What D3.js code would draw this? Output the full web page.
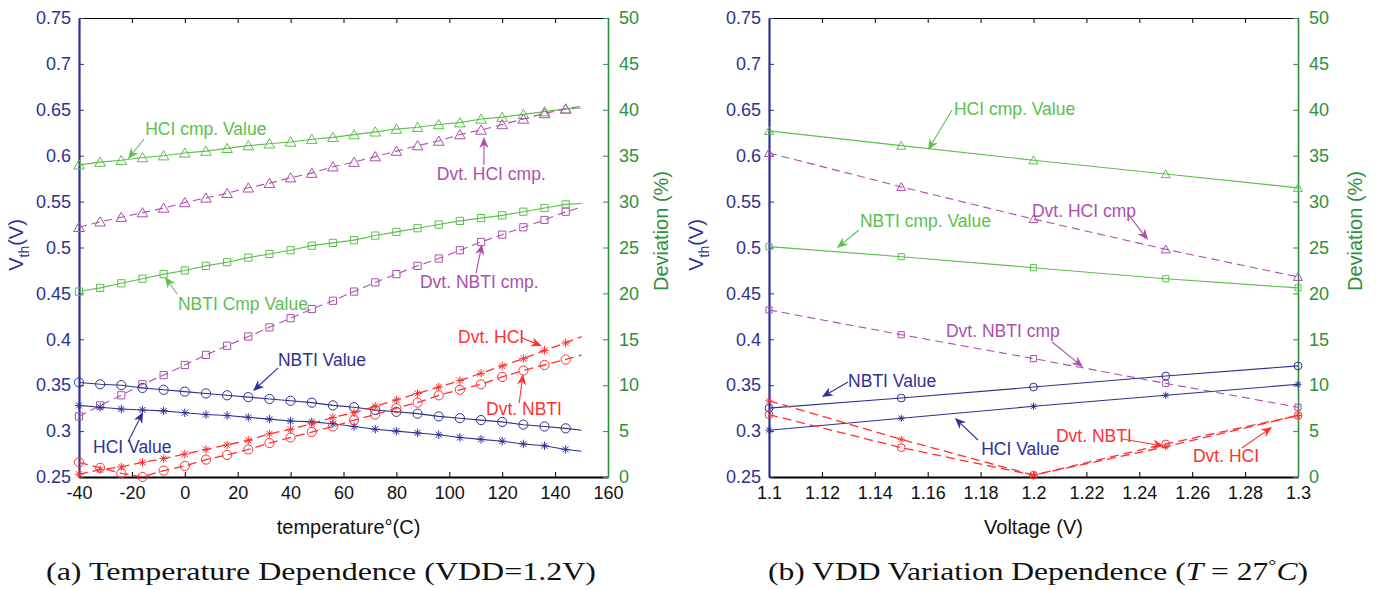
<!DOCTYPE html>
<html>
<head>
<meta charset="utf-8">
<script src="https://cdn.jsdelivr.net/npm/d3@7"></script>
<style>
  body { margin: 0; background: #fff; }
  svg { display: block; font-family: "Liberation Sans", Arial, Helvetica, sans-serif; }
</style>
</head>
<body>
<svg width="1376" height="590"></svg>
<script>
// ---- shared axes ----
var vthTicks = [0.25, 0.3, 0.35, 0.4, 0.45, 0.5, 0.55, 0.6, 0.65, 0.7, 0.75];
var vthTickLabels = ["0.25", "0.3", "0.35", "0.4", "0.45", "0.5", "0.55", "0.6", "0.65", "0.7", "0.75"];
var devTicks = [0, 5, 10, 15, 20, 25, 30, 35, 40, 45, 50];

// ---- panel (a): temperature sweep, VDD = 1.2V ----
var temps = [-40, -32, -24, -16, -8, 0, 8, 16, 24, 32, 40, 48, 56, 64, 72, 80, 88, 96, 104, 112, 120, 128, 136, 144];
var tempTicks = [-40, -20, 0, 20, 40, 60, 80, 100, 120, 140, 160];
var tempTickLabels = ["-40", "-20", "0", "20", "40", "60", "80", "100", "120", "140", "160"];

var hciCmpT = [0.590, 0.593, 0.595, 0.598, 0.600, 0.603, 0.605, 0.608, 0.611, 0.613, 0.615, 0.618, 0.620, 0.623, 0.626, 0.629, 0.631, 0.634, 0.636, 0.640, 0.642, 0.645, 0.648, 0.651];
var dvtHciCmpT = [27.2, 27.8, 28.3, 28.8, 29.3, 29.9, 30.4, 30.9, 31.5, 32.0, 32.6, 33.1, 33.8, 34.3, 34.9, 35.5, 36.1, 36.6, 37.3, 37.8, 38.4, 39.0, 39.6, 40.1];
var nbtiCmpT = [0.452, 0.456, 0.461, 0.466, 0.471, 0.475, 0.480, 0.484, 0.489, 0.493, 0.497, 0.502, 0.505, 0.508, 0.513, 0.517, 0.521, 0.525, 0.529, 0.532, 0.535, 0.539, 0.543, 0.547];
var dvtNbtiCmpT = [6.6, 7.8, 8.9, 10.1, 11.1, 12.2, 13.3, 14.3, 15.3, 16.3, 17.3, 18.3, 19.2, 20.2, 21.2, 22.1, 23.0, 23.8, 24.7, 25.6, 26.4, 27.2, 28.0, 28.9];
var nbtiT = [0.353, 0.351, 0.350, 0.347, 0.345, 0.343, 0.341, 0.339, 0.337, 0.335, 0.333, 0.331, 0.328, 0.326, 0.323, 0.321, 0.319, 0.316, 0.314, 0.312, 0.310, 0.307, 0.305, 0.303];
var hciT = [0.328, 0.326, 0.324, 0.323, 0.322, 0.320, 0.318, 0.317, 0.315, 0.313, 0.311, 0.310, 0.308, 0.305, 0.302, 0.300, 0.298, 0.296, 0.293, 0.291, 0.289, 0.286, 0.284, 0.280];
var dvtHciT = [0.3, 0.8, 1.1, 1.6, 2.0, 2.5, 3.0, 3.5, 4.0, 4.7, 5.2, 5.8, 6.5, 7.0, 7.7, 8.4, 9.1, 9.8, 10.5, 11.3, 12.1, 12.9, 13.8, 14.6];
var dvtNbtiT = [1.6, 1.0, 0.4, 0.0, 0.7, 1.2, 1.9, 2.4, 3.0, 3.7, 4.3, 4.9, 5.5, 6.2, 6.8, 7.5, 8.1, 8.9, 9.5, 10.1, 10.9, 11.6, 12.2, 12.8];
// where each line of panel (a) stops, at 150 C (same series order as above)
var tempLineEnd = 150;
var tempEnds = [0.652, 40.4, 0.548, 29.4, 0.301, 0.278, 15.3, 13.3];

// ---- panel (b): VDD sweep, T = 27C ----
var volts = [1.1, 1.15, 1.2, 1.25, 1.3];
var voltTicks = [1.1, 1.12, 1.14, 1.16, 1.18, 1.2, 1.22, 1.24, 1.26, 1.28, 1.3];
var voltTickLabels = ["1.1", "1.12", "1.14", "1.16", "1.18", "1.2", "1.22", "1.24", "1.26", "1.28", "1.3"];

var hciCmpV = [0.627, 0.611, 0.595, 0.580, 0.565];
var dvtHciCmpV = [35.3, 31.6, 28.1, 24.8, 21.8];
var nbtiCmpV = [0.501, 0.490, 0.478, 0.466, 0.456];
var dvtNbtiCmpV = [18.2, 15.5, 12.9, 10.2, 7.6];
var nbtiV = [0.325, 0.336, 0.348, 0.360, 0.371];
var hciV = [0.301, 0.314, 0.327, 0.339, 0.351];
var dvtHciV = [8.3, 4.1, 0.2, 3.3, 6.7];
var dvtNbtiV = [6.8, 3.2, 0.2, 3.6, 6.7];

var blue = "#2e3192", darkGreen = "#2e8f3d", green = "#5cbf4c", magenta = "#ab4fab", red = "#ff3030";

var svg = d3.select("svg"),
    plotTop = 18, plotBottom = 477;

function seriesList(v) {
    return [
        { values: v[0], axis: "vth", color: green, marker: "tri" },
        { values: v[1], axis: "dev", color: magenta, marker: "tri", dash: "8,5" },
        { values: v[2], axis: "vth", color: green, marker: "sq" },
        { values: v[3], axis: "dev", color: magenta, marker: "sq", dash: "8,5" },
        { values: v[4], axis: "vth", color: blue, marker: "circ" },
        { values: v[5], axis: "vth", color: blue, marker: "star" },
        { values: v[6], axis: "dev", color: red, marker: "star", dash: "9,5", width: 1.3 },
        { values: v[7], axis: "dev", color: red, marker: "circ", dash: "9,5", width: 1.3 }
    ];
}

function markerPath(type, s) {
    if (type === "tri") return "M0," + (-5 * s) + "L" + (5.3 * s) + "," + (4.2 * s) + "L" + (-5.3 * s) + "," + (4.2 * s) + "Z";
    if (type === "sq") return "M" + (-3.6 * s) + "," + (-3.6 * s) + "h" + (7.2 * s) + "v" + (7.2 * s) + "h" + (-7.2 * s) + "Z";
    if (type === "circ") {
        var r = 4.6 * s;
        return "M" + r + ",0A" + r + "," + r + " 0 1,1 " + (-r) + ",0A" + r + "," + r + " 0 1,1 " + r + ",0";
    }
    var a = 4.2 * s, b = 3 * s;
    return "M" + (-a) + ",0H" + a + "M0," + (-a) + "V" + a +
        "M" + (-b) + "," + (-b) + "L" + b + "," + b + "M" + (-b) + "," + b + "L" + b + "," + (-b);
}

function arrow(g, x1, y1, x2, y2, color) {
    var dx = x2 - x1, dy = y2 - y1, len = Math.sqrt(dx * dx + dy * dy),
        ux = dx / len, uy = dy / len, L = 11, w = 4.6;
    var bx = x2 - L * ux, by = y2 - L * uy,
        nx = x2 - 0.7 * L * ux, ny = y2 - 0.7 * L * uy;
    g.append("line")
        .attr("x1", x1).attr("y1", y1).attr("x2", nx).attr("y2", ny)
        .attr("stroke", color).attr("stroke-width", 1.1);
    g.append("path")
        .attr("d", "M" + x2 + "," + y2 + "L" + (bx - w * uy) + "," + (by + w * ux) +
            "L" + nx + "," + ny + "L" + (bx + w * uy) + "," + (by - w * ux) + "Z")
        .attr("fill", color);
}

function styleAxis(sel, color, lineW) {
    sel.attr("font-family", null).attr("font-size", 18);
    sel.select(".domain").attr("stroke", color).attr("stroke-width", lineW);
    sel.selectAll(".tick line").attr("stroke", color).attr("stroke-width", 1);
    sel.selectAll(".tick text").attr("fill", color);
}

function drawPanel(p) {
    var x = d3.scaleLinear().domain(p.xDomain).range([p.left, p.right]),
        yV = d3.scaleLinear().domain([0.25, 0.75]).range([plotBottom, plotTop]),
        yD = d3.scaleLinear().domain([0, 50]).range([plotBottom, plotTop]);
    var g = svg.append("g");

    // top frame
    g.append("g")
        .attr("transform", "translate(0," + plotTop + ")")
        .call(d3.axisTop(x).tickValues(p.xTicks).tickSize(-5).tickSizeOuter(0).tickFormat(""))
        .call(styleAxis, "#000", 1.2);

    g.append("g")
        .attr("transform", "translate(0," + plotBottom + ")")
        .call(d3.axisBottom(x).tickValues(p.xTicks).tickSize(-5).tickSizeOuter(0).tickPadding(9)
            .tickFormat(function (d, i) { return p.xTickLabels[i]; }))
        .call(styleAxis, "#000", 2.2)
        .selectAll(".tick text").attr("fill", "#111");

    g.append("g")
        .attr("transform", "translate(" + p.right + ",0)")
        .call(d3.axisRight(yD).tickValues(devTicks).tickSize(-5).tickSizeOuter(0).tickPadding(11)
            .tickFormat(function (d) { return String(d); }))
        .call(styleAxis, darkGreen, 1.6);

    g.append("g")
        .attr("transform", "translate(" + p.left + ",0)")
        .call(d3.axisLeft(yV).tickValues(vthTicks).tickSize(-5).tickSizeOuter(0).tickPadding(8)
            .tickFormat(function (d, i) { return vthTickLabels[i]; }))
        .call(styleAxis, blue, 2.2);

    var line = d3.line();
    p.series.forEach(function (s, k) {
        var y = s.axis === "vth" ? yV : yD;
        var pts = p.xs.map(function (xv, i) { return [x(xv), y(s.values[i])]; });
        var linePts = pts.slice();
        if (p.lineEnd) linePts.push([x(p.lineEnd), y(p.ends[k])]);

        g.append("path")
            .attr("d", line(linePts))
            .attr("fill", "none")
            .attr("stroke", s.color)
            .attr("stroke-width", s.width || 1.1)
            .attr("stroke-dasharray", s.dash || null);

        g.selectAll(null)
            .data(pts)
            .enter().append("path")
            .attr("transform", function (d) { return "translate(" + d[0] + "," + d[1] + ")"; })
            .attr("d", markerPath(s.marker, p.markerScale))
            .attr("fill", "none")
            .attr("stroke", s.color)
            .attr("stroke-width", 1);
    });

    // annotations
    p.notes.forEach(function (n) {
        arrow(g, x(n.a[0]), yV(n.a[1]), x(n.a[2]), yV(n.a[3]), n.color);
        g.append("text")
            .attr("x", x(n.at[0]))
            .attr("y", yV(n.at[1]))
            .attr("fill", n.color)
            .attr("font-size", 17.5)
            .text(n.text);
    });

    // axis labels
    g.append("text")
        .attr("x", (p.left + p.right) / 2 + p.xLabelShift)
        .attr("y", 534)
        .attr("text-anchor", "middle")
        .attr("font-size", 20)
        .attr("fill", "#111")
        .text(p.xLabel);

    var vl = g.append("text")
        .attr("transform", "translate(" + p.vthLabelX + ",245) rotate(-90)")
        .attr("text-anchor", "middle")
        .attr("font-size", 20)
        .attr("fill", blue);
    vl.append("tspan").text("V");
    vl.append("tspan").attr("font-size", 14).attr("dy", 6).text("th");
    vl.append("tspan").attr("dy", -6).text("(V)");

    g.append("text")
        .attr("transform", "translate(" + p.devLabelX + ",231) rotate(-90)")
        .attr("text-anchor", "middle")
        .attr("font-size", 20)
        .attr("fill", darkGreen)
        .text("Deviation (%)");
}

drawPanel({
    left: 79, right: 608, xDomain: [-40, 160],
    xs: temps, xTicks: tempTicks, xTickLabels: tempTickLabels,
    lineEnd: tempLineEnd, ends: tempEnds, markerScale: 1,
    series: seriesList([hciCmpT, dvtHciCmpT, nbtiCmpT, dvtNbtiCmpT, nbtiT, hciT, dvtHciT, dvtNbtiT]),
    xLabel: "temperature\u00b0(C)", xLabelShift: 5, vthLabelX: 23, devLabelX: 668,
    notes: [
        { text: "HCI cmp. Value", color: green, at: [-15.0, 0.6225], a: [-15.4, 0.6182, -21.5, 0.5964] },
        { text: "Dvt. HCI cmp.", color: magenta, at: [95.3, 0.5735], a: [113.1, 0.5899, 113.1, 0.6204] },
        { text: "NBTI Cmp Value", color: green, at: [-2.6, 0.4319], a: [-2.9, 0.4493, -7.5, 0.4679] },
        { text: "NBTI Value", color: blue, at: [35.2, 0.3709], a: [35.2, 0.3687, 25.8, 0.3437] },
        { text: "HCI Value", color: blue, at: [-34.7, 0.2761], a: [-21.5, 0.2881, -15.8, 0.3208] },
        { text: "Dvt. NBTI cmp.", color: magenta, at: [88.9, 0.4559], a: [110.1, 0.4722, 112.4, 0.5038] },
        { text: "Dvt. HCI", color: red, at: [103.3, 0.3960], a: [127.5, 0.4014, 135.0, 0.3927] },
        { text: "Dvt. NBTI", color: red, at: [113.9, 0.3175], a: [126.4, 0.3306, 127.9, 0.3622] }
    ]
});

drawPanel({
    left: 769, right: 1298, xDomain: [1.1, 1.3],
    xs: volts, xTicks: voltTicks, xTickLabels: voltTickLabels,
    lineEnd: null, markerScale: 0.85,
    series: seriesList([hciCmpV, dvtHciCmpV, nbtiCmpV, dvtNbtiCmpV, nbtiV, hciV, dvtHciV, dvtNbtiV]),
    xLabel: "Voltage (V)", xLabelShift: 0, vthLabelX: 703, devLabelX: 1362,
    notes: [
        { text: "HCI cmp. Value", color: green, at: [1.1699, 0.6443], a: [1.1692, 0.6498, 1.1601, 0.6062] },
        { text: "NBTI cmp. Value", color: green, at: [1.1344, 0.5223], a: [1.1340, 0.5191, 1.1257, 0.4995] },
        { text: "Dvt. HCI cmp", color: magenta, at: [1.1994, 0.5332], a: [1.2354, 0.5376, 1.2433, 0.5082] },
        { text: "Dvt. NBTI cmp", color: magenta, at: [1.1669, 0.4025], a: [1.2070, 0.3971, 1.2187, 0.3698] },
        { text: "NBTI Value", color: blue, at: [1.1299, 0.3480], a: [1.1299, 0.3535, 1.1200, 0.3371] },
        { text: "HCI Value", color: blue, at: [1.1802, 0.2740], a: [1.1790, 0.2903, 1.1703, 0.3143] },
        { text: "Dvt. NBTI", color: red, at: [1.2085, 0.2881], a: [1.2335, 0.2914, 1.2493, 0.2838] },
        { text: "Dvt. HCI", color: red, at: [1.2603, 0.2663], a: [1.2788, 0.2816, 1.2902, 0.3045] }
    ]
});

// captions
var capA = svg.append("text")
    .attr("x", 321).attr("y", 580)
    .attr("text-anchor", "middle")
    .attr("font-family", "'Liberation Serif', 'Times New Roman', serif")
    .attr("font-size", 25)
    .attr("fill", "#111")
    .attr("textLength", 550)
    .attr("lengthAdjust", "spacingAndGlyphs")
    .text("(a) Temperature Dependence (VDD=1.2V)");

var capB = svg.append("text")
    .attr("x", 1038).attr("y", 580)
    .attr("text-anchor", "middle")
    .attr("font-family", "'Liberation Serif', 'Times New Roman', serif")
    .attr("font-size", 25)
    .attr("fill", "#111")
    .attr("textLength", 540)
    .attr("lengthAdjust", "spacingAndGlyphs");
capB.append("tspan").text("(b) VDD Variation Dependence (");
capB.append("tspan").attr("font-style", "italic").text("T");
capB.append("tspan").text(" = 27");
capB.append("tspan").attr("font-size", 16).attr("dy", -9).text("\u00b0");
capB.append("tspan").attr("font-style", "italic").attr("dy", 9).text("C");
capB.append("tspan").text(")");
</script>
</body>
</html>
